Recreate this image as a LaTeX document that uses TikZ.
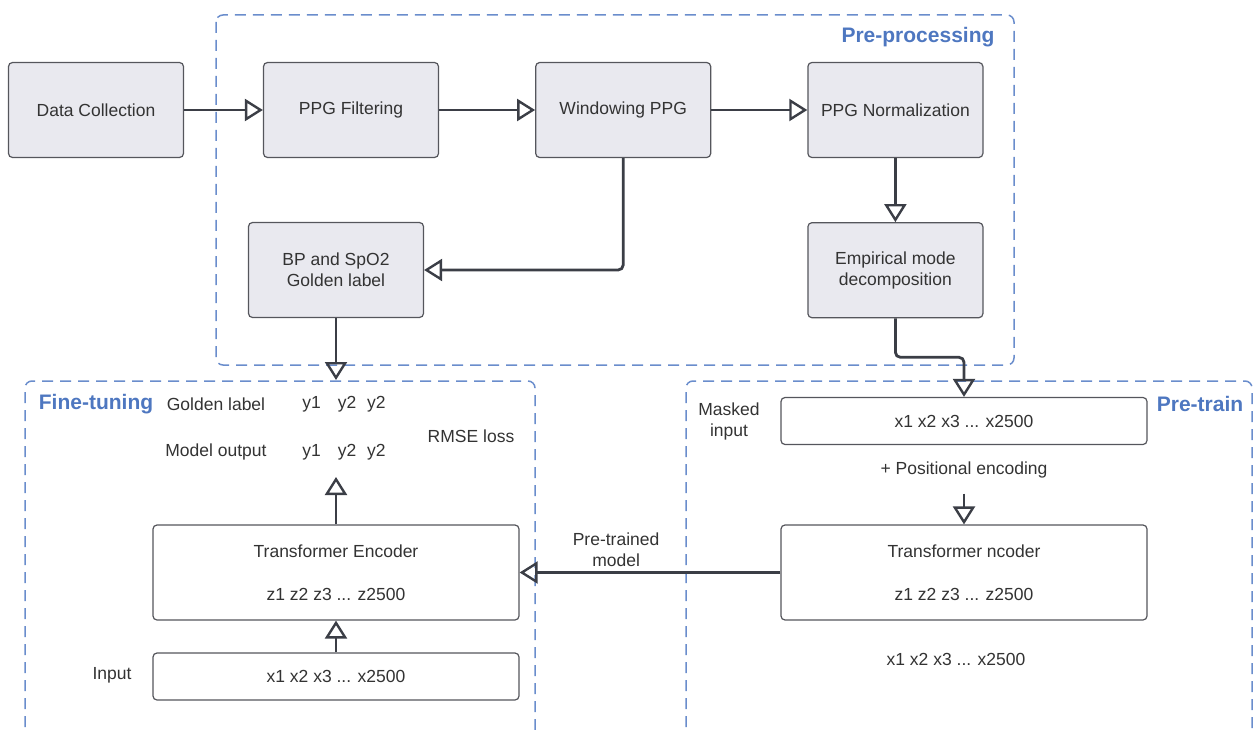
\documentclass[tikz,border=0pt]{standalone}
\usepackage{fontspec}
\setmainfont{Liberation Sans}
\usetikzlibrary{positioning}
\usetikzlibrary{arrows.meta}
\definecolor{boxfill}{HTML}{E9E9EF}
\definecolor{boxline}{HTML}{55565C}
\definecolor{flow}{HTML}{3B3E46}
\definecolor{frameblue}{HTML}{6A8DCC}
\definecolor{titleblue}{HTML}{4E77C0}
\definecolor{txt}{HTML}{333333}
\tikzset{x=1pt, y=1pt,
every node/.style={
font=\fontsize{17.5}{21}\selectfont,
text=txt},
block/.style={ 
draw=boxline, fill=boxfill,
line width=1.2pt,
rounded corners=4pt,
minimum width=175pt, minimum height=95pt,
align=center},
wide/.style={
draw=boxline, fill=white,
line width=1.2pt,
rounded corners=4pt,
minimum width=366pt, minimum height=47pt,
align=center},
tall/.style={wide, minimum height=95pt},
phase/.style={
draw=frameblue,
line width=1.5pt,
dash pattern=on 11pt off 7pt,
rounded corners=7pt},
title/.style={
font=\fontsize{21}{25}\selectfont\bfseries,
text=titleblue},
flowline/.style={
draw=flow,
line width=2.8pt,
rounded corners=5pt,
-{Triangle[open, length=18pt, width=22pt, line width=2.4pt]}}}

\begin{document}
\begin{tikzpicture}
\useasboundingbox (0,0) rectangle (1253,-730);
% frames
\draw[phase] (216,-15) rectangle (1014,-365);
\draw[phase] (25,-745) |- (535,-381) -- (535,-745);
\draw[phase] (686,-745) |- (1252,-381) -- (1252,-745);
\node[title] (pretitle) at (918,-37) {Pre-processing};
\node[title] (finetitle) at (96,-404) {Fine-tuning};
\node[title] (traintitle) at (1200,-404) {Pre-train};

% pre-processing
\node[block] (collect) at (96,-110) {Data Collection};
\node[block] (filter) at (351,-110) {PPG Filtering};
\node[block, right=96pt of filter] (window) {Windowing PPG};
\node[block, right=96pt of window] (norm) {PPG Normalization};
\node[block, below=64pt of norm] (emd) {Empirical mode\\decomposition};
\node[block] (label) at (336,-270) {BP and SpO2\\Golden label};
\coordinate (gold) at (336,-380);

% pre-train
\node[wide] (masked) at (964,-421) {x1 x2 x3 ... x2500};
\node[align=center] (maskedlbl) at (729,-421) {Masked\\input};
\node (posenc) at (964,-470) {+ Positional encoding};
\node[tall] (penc) at (964,-572.5) {Transformer ncoder\\[22pt]z1 z2 z3 ... z2500};
\node (recon) at (956,-659) {x1 x2 x3 ... x2500};

% fine-tuning
\node (goldlbl) at (216,-404) {Golden label};
\node (goldy) at (344,-404) {y1\hspace{17pt}y2\hspace{11pt}y2};
\node (outlbl) at (216,-452) {Model output};
\node (outy) at (344,-452) {y1\hspace{17pt}y2\hspace{11pt}y2};
\node (rmse) at (471,-436) {RMSE loss};
\coordinate (outtip) at (336,-477);
\node[tall] (fenc) at (336,-572.5) {Transformer Encoder\\[22pt]z1 z2 z3 ... z2500};
\node[wide] (input) at (336,-676.5) {x1 x2 x3 ... x2500};
\node (inputlbl) at (112,-675) {Input};

\draw[flowline] (collect) -- (filter);
\draw[flowline] (filter) -- (window);
\draw[flowline] (window) -- (norm);
\draw[flowline] (norm) -- (emd);
\draw[flowline] (window.south) |- (label.east);
\draw[flowline] (label) -- (gold);
\draw[flowline] (emd.south) -- ++(0,-39) -| (masked.north);
\draw[flowline] ([yshift=-12pt]posenc.south) -- (penc);
\draw[flowline] (penc) -- node[pos=0.63, above=1pt, align=center] {Pre-trained\\model} (fenc);
\draw[flowline] (input) -- (fenc);
\draw[flowline] (fenc) -- (outtip);
\end{tikzpicture}
\end{document}
